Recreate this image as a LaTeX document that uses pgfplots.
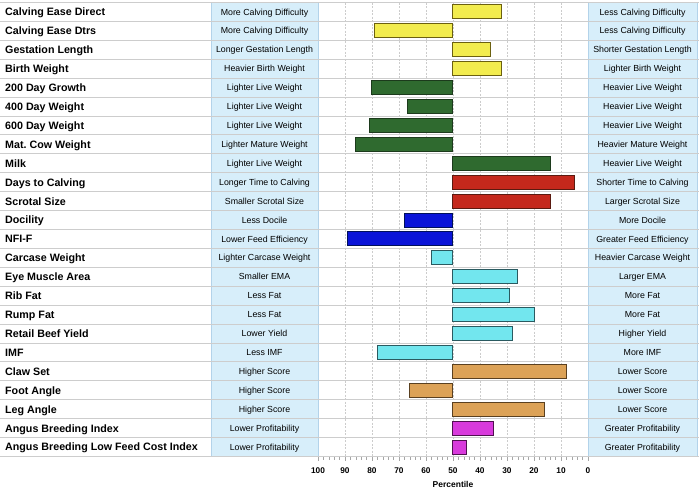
\documentclass[border=0pt]{standalone}
\usepackage{pgfplots}
\pgfplotsset{compat=1.18}
\usepackage{fontspec}
\setmainfont{Liberation Sans}
\frenchspacing
\definecolor{boxfill}{HTML}{D7EEFA}
\definecolor{boxline}{HTML}{B3D3EA}
\definecolor{rowline}{HTML}{CDCDCD}
\definecolor{yel}{HTML}{F2EC4E}\definecolor{yelD}{HTML}{6B6010}
\definecolor{grn}{HTML}{2F6A2F}\definecolor{grnD}{HTML}{1C3A1C}
\definecolor{rd}{HTML}{C4281C}\definecolor{rdD}{HTML}{5A1A10}
\definecolor{blu}{HTML}{0A14D8}\definecolor{bluD}{HTML}{00105A}
\definecolor{cyn}{HTML}{72E6EE}\definecolor{cynD}{HTML}{2A5A60}
\definecolor{tan}{HTML}{DCA257}\definecolor{tanD}{HTML}{5A4020}
\definecolor{mag}{HTML}{D83ADC}\definecolor{magD}{HTML}{501050}
\newcommand{\row}[4]{%
  \node[anchor=base west,font=\bfseries\fontsize{10.7}{12}\selectfont,inner sep=0pt,yshift=-3.9pt] at ([xshift=-313pt]axis cs:-50,#1) {#2};
  \node[anchor=base,font=\fontsize{8.8}{10}\selectfont,inner sep=0pt,yshift=-3.1pt] at ([xshift=-53.5pt]axis cs:-50,#1) {#3};
  \node[anchor=base,font=\fontsize{8.8}{10}\selectfont,inner sep=0pt,yshift=-3.1pt] at ([xshift=54.5pt]axis cs:50,#1) {#4};
}
\begin{document}
\begin{tikzpicture}
\path[use as bounding box] (-318pt,-36.5pt) rectangle (381pt,456.5pt);
\begin{axis}[
  at={(0,0)}, anchor=south west,
  scale only axis, width=270pt, height=454pt,
  xmin=-50, xmax=50, ymin=0.5, ymax=24.5, y dir=reverse,
  clip=false,
  axis x line*=bottom, axis y line=none,
  x axis line style={draw=none},
  xtick={-50,-40,...,50},
  xticklabels={100,90,80,70,60,50,40,30,20,10,0},
  minor x tick num=4,
  xtick align=outside,
  major tick length=4pt, minor tick length=3pt,
  every tick/.style={color=gray!70, line width=0.4pt},
  xmajorgrids,
  major grid style={color=gray!40, dash pattern=on 2pt off 1.5pt, line width=0.6pt},
  ytick=\empty,
  /pgf/number format/assume math mode=true,
  xticklabel style={font=\bfseries\fontsize{8.3}{9}\selectfont, yshift=-3.5pt},
  xlabel={Percentile},
  xlabel style={font=\bfseries\fontsize{8.5}{10}\selectfont, yshift=-1pt},
  xbar, bar width=0.74, bar shift=0pt,
]
% side boxes
\fill[boxfill] ([xshift=-107pt]axis cs:-50,0.5) rectangle (axis cs:-50,24.5);
\draw[boxline,line width=0.8pt] ([xshift=-107pt]axis cs:-50,0.5) -- ([xshift=-107pt]axis cs:-50,24.5);
\draw[boxline,line width=0.8pt] (axis cs:-50,0.5) -- (axis cs:-50,24.5);
\fill[boxfill] (axis cs:50,0.5) rectangle ([xshift=109pt]axis cs:50,24.5);
\draw[boxline,line width=0.8pt] (axis cs:50,0.5) -- (axis cs:50,24.5);
\draw[boxline,line width=0.8pt] ([xshift=109pt]axis cs:50,0.5) -- ([xshift=109pt]axis cs:50,24.5);
% row lines
\pgfplotsinvokeforeach{0,...,24}{
  \draw[rowline,line width=1pt] ([xshift=-318pt]axis cs:-50,#1+0.5) -- ([xshift=111pt]axis cs:50,#1+0.5);
}
\row{1}{Calving Ease Direct}{More Calving Difficulty}{Less Calving Difficulty}
\row{2}{Calving Ease Dtrs}{More Calving Difficulty}{Less Calving Difficulty}
\row{3}{Gestation Length}{Longer Gestation Length}{Shorter Gestation Length}
\row{4}{Birth Weight}{Heavier Birth Weight}{Lighter Birth Weight}
\row{5}{200 Day Growth}{Lighter Live Weight}{Heavier Live Weight}
\row{6}{400 Day Weight}{Lighter Live Weight}{Heavier Live Weight}
\row{7}{600 Day Weight}{Lighter Live Weight}{Heavier Live Weight}
\row{8}{Mat. Cow Weight}{Lighter Mature Weight}{Heavier Mature Weight}
\row{9}{Milk}{Lighter Live Weight}{Heavier Live Weight}
\row{10}{Days to Calving}{Longer Time to Calving}{Shorter Time to Calving}
\row{11}{Scrotal Size}{Smaller Scrotal Size}{Larger Scrotal Size}
\row{12}{Docility}{Less Docile}{More Docile}
\row{13}{NFI-F}{Lower Feed Efficiency}{Greater Feed Efficiency}
\row{14}{Carcase Weight}{Lighter Carcase Weight}{Heavier Carcase Weight}
\row{15}{Eye Muscle Area}{Smaller EMA}{Larger EMA}
\row{16}{Rib Fat}{Less Fat}{More Fat}
\row{17}{Rump Fat}{Less Fat}{More Fat}
\row{18}{Retail Beef Yield}{Lower Yield}{Higher Yield}
\row{19}{IMF}{Less IMF}{More IMF}
\row{20}{Claw Set}{Higher Score}{Lower Score}
\row{21}{Foot Angle}{Higher Score}{Lower Score}
\row{22}{Leg Angle}{Higher Score}{Lower Score}
\row{23}{Angus Breeding Index}{Lower Profitability}{Greater Profitability}
\row{24}{Angus Breeding Low Feed Cost Index}{Lower Profitability}{Greater Profitability}
% bars: percentile values, drawn from the 50th percentile
\addplot[fill=yel, draw=yelD, line width=1pt, x filter/.expression={50-x}] coordinates {(32,1) (79,2) (36,3) (32,4)};
\addplot[fill=grn, draw=grnD, line width=1pt, x filter/.expression={50-x}] coordinates {(80,5) (67,6) (81,7) (86,8) (14,9)};
\addplot[fill=rd, draw=rdD, line width=1pt, x filter/.expression={50-x}] coordinates {(5,10) (14,11)};
\addplot[fill=blu, draw=bluD, line width=1pt, x filter/.expression={50-x}] coordinates {(68,12) (89,13)};
\addplot[fill=cyn, draw=cynD, line width=1pt, x filter/.expression={50-x}] coordinates {(58,14) (26,15) (29,16) (20,17) (28,18) (78,19)};
\addplot[fill=tan, draw=tanD, line width=1pt, x filter/.expression={50-x}] coordinates {(8,20) (66,21) (16,22)};
\addplot[fill=mag, draw=magD, line width=1pt, x filter/.expression={50-x}] coordinates {(35,23) (45,24)};
\end{axis}
\end{tikzpicture}
\end{document}
